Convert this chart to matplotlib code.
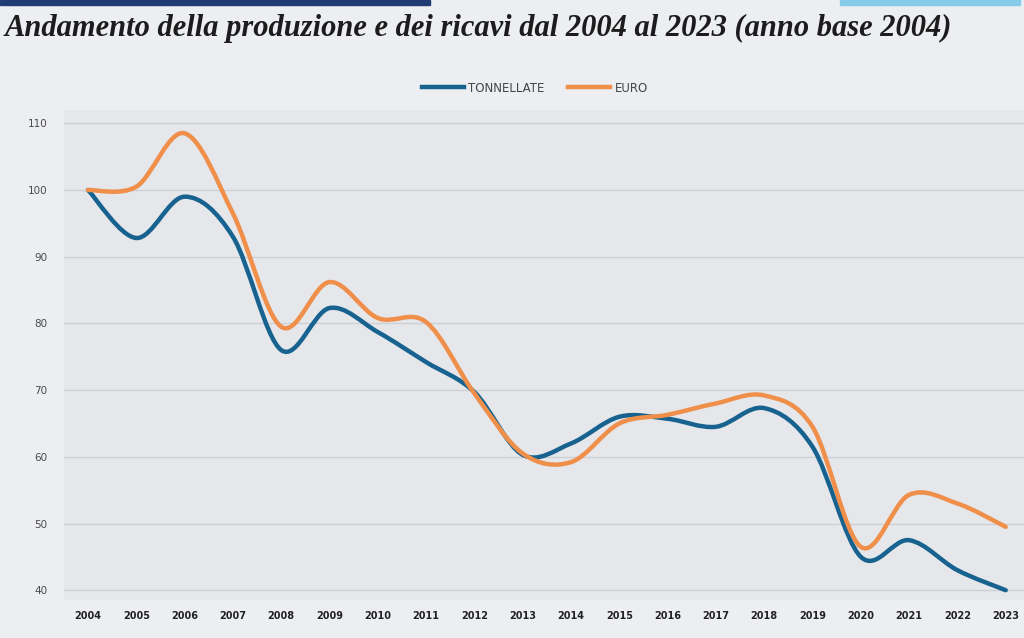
import matplotlib
matplotlib.use("Agg")
import matplotlib.pyplot as plt
from matplotlib.path import Path
from matplotlib.patches import PathPatch, Rectangle
from matplotlib.lines import Line2D

years = list(range(2004, 2024))
tonnellate = [100, 92.8, 99, 93, 76, 82.3, 78.7, 74.2, 69.7, 60.3, 62, 66, 65.7, 64.5, 67.3, 61.5, 45, 47.5, 43, 40]
euro = [100, 100.5, 108.5, 96.5, 79.5, 86.2, 80.8, 80.2, 69.5, 60.5, 59.2, 65, 66.3, 68, 69.2, 64.5, 46.5, 54.3, 53, 49.5]
y_ticks = [40, 50, 60, 70, 80, 90, 100, 110]
title = "Andamento della produzione e dei ricavi dal 2004 al 2023 (anno base 2004)"
series_names = ["TONNELLATE", "EURO"]
colors = ["#17628f", "#ef8f4a"]


def smooth_path(xs, ys):
    pts = list(zip(xs, ys))
    n = len(pts)
    verts = [pts[0]]
    codes = [Path.MOVETO]
    for i in range(n - 1):
        p0 = pts[i - 1] if i > 0 else pts[i]
        p1 = pts[i]
        p2 = pts[i + 1]
        p3 = pts[i + 2] if i + 2 < n else pts[i + 1]
        c1 = (p1[0] + (p2[0] - p0[0]) / 6, p1[1] + (p2[1] - p0[1]) / 6)
        c2 = (p2[0] - (p3[0] - p1[0]) / 6, p2[1] - (p3[1] - p1[1]) / 6)
        verts += [c1, c2, p2]
        codes += [Path.CURVE4] * 3
    return Path(verts, codes)


fig = plt.figure(figsize=(10.24, 6.38), dpi=100)
fig.patch.set_facecolor("#eceef1")

# top decorative strips
fig.patches.append(Rectangle((0, 0.992), 0.42, 0.008, transform=fig.transFigure,
                             color="#1f3c73", zorder=0))
fig.patches.append(Rectangle((0.82, 0.992), 0.176, 0.008, transform=fig.transFigure,
                             color="#86cbea", zorder=0))

W, H = 1024, 638
x_per_year = 48.3
x0 = 88
left_px = x0 - 0.5 * x_per_year
width_px = 20 * x_per_year
y_per_unit = 6.67
ymin, ymax = 38.5, 112
top_px = 190 - (ymax - 100) * y_per_unit
bottom_px = 190 + (100 - ymin) * y_per_unit
ax = fig.add_axes([left_px / W, 1 - bottom_px / H, width_px / W, (bottom_px - top_px) / H])
ax.set_facecolor("#e5e7eb")
ax.set_xlim(2003.5, 2023.5)
ax.set_ylim(ymin, ymax)

for v in y_ticks:
    ax.axhline(v, color="#cdd0d5", lw=1, zorder=1)

for vals, col in zip([tonnellate, euro], colors):
    ax.add_patch(PathPatch(smooth_path(years, vals), facecolor="none",
                           edgecolor=col, lw=3.2, zorder=3, capstyle="round"))

ax.set_yticks(y_ticks)
ax.set_yticklabels([str(v) for v in y_ticks], fontsize=7.5, color="#4a4a4a")
ax.set_xticks(years)
ax.set_xticklabels([str(y) for y in years], fontsize=7, fontweight="bold", color="#222222")
ax.tick_params(axis="both", length=0)
ax.tick_params(axis="y", pad=12)
ax.tick_params(axis="x", pad=8)
for s in ax.spines.values():
    s.set_visible(False)

handles = [Line2D([0], [0], color=c, lw=3.2) for c in colors]
fig.legend(handles, series_names, loc="center", bbox_to_anchor=(535 / W, 1 - 88 / H),
           ncol=2, frameon=False, fontsize=8.5, handlelength=3.5, handletextpad=0.4,
           columnspacing=2, labelcolor="#444444")

fig.text(5 / W, 1 - 28 / H, title, fontsize=22, fontweight="bold", fontstyle="italic",
         family="Liberation Serif", color="#1c1c1c", va="center", ha="left")

fig.savefig("out.png", dpi=100, facecolor=fig.get_facecolor())
